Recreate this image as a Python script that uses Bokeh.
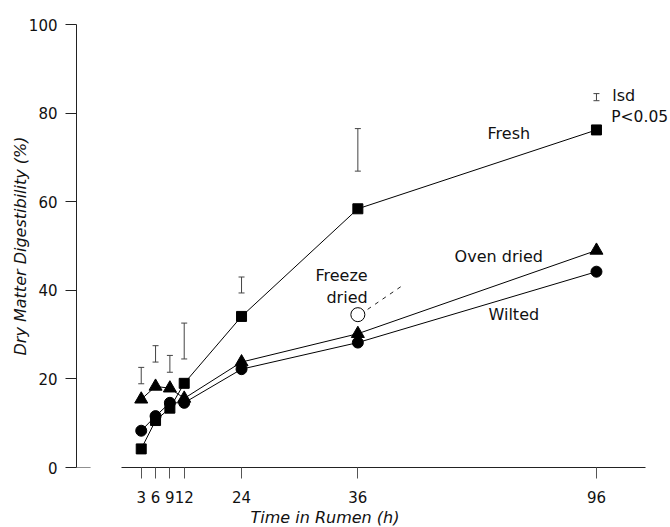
from bokeh.plotting import figure
from bokeh.models import (FixedTicker, CustomJSTickFormatter, Whisker, TeeHead,
                          ColumnDataSource, Label, Arrow, Range1d, Title)
from bokeh.embed import file_html
from bokeh.resources import INLINE

# ---------------- data ----------------
hours = [3, 6, 9, 12, 24, 36, 96]
hour_labels = ["3", "6", "9", "12", "24", "36", "96"]
# the original time axis is not drawn to scale: position of each time on the drawn axis
axis_pos = [3, 6, 9, 12, 24, 48.35, 98.3]

fresh = [4.2, 10.6, 13.4, 19.0, 34.1, 58.4, 76.2]
oven_dried = [15.4, 18.3, 17.9, 15.6, 23.8, 30.2, 49.0]
wilted = [8.3, 11.6, 14.6, 14.6, 22.2, 28.2, 44.2]

freeze_hours = [36]
freeze_dried = [34.5]

# lsd bars (P<0.05)
lsd_lower = [18.9, 23.8, 21.5, 24.5, 39.4, 66.9, 82.8]
lsd_upper = [22.6, 27.5, 25.3, 32.6, 43.0, 76.5, 84.4]

y_ticks = [0, 20, 40, 60, 80, 100]

FONT = "DejaVu Sans"

p = figure(output_backend="svg", toolbar_location=None,
           frame_width=594, frame_height=443,
           min_border_left=76, min_border_top=24, min_border_right=0,
           min_border_bottom=56,
           x_range=Range1d(-10.55, 113.8), y_range=Range1d(0, 100))
p.background_fill_color = "white"
p.border_fill_color = "white"
p.outline_line_color = None
p.grid.grid_line_color = None

# ---- axes ----
xa = p.xaxis[0]
xa.ticker = FixedTicker(ticks=axis_pos)
xa.formatter = CustomJSTickFormatter(args=dict(pos=axis_pos, labs=hour_labels), code="""
    const i = pos.indexOf(tick);
    return i >= 0 ? labs[i] : "";
""")
xa.bounds = (-1.13, 108.6)
xa.axis_line_color = "#222222"
xa.major_tick_line_color = "#555555"
xa.major_tick_out = 11
xa.major_tick_in = 0
xa.minor_tick_line_color = None
xa.major_label_standoff = 12
xa.major_label_text_font = FONT
xa.major_label_text_font_size = "15px"
xa.major_label_text_color = "#111111"

ya = p.yaxis[0]
ya.ticker = FixedTicker(ticks=y_ticks)
ya.bounds = (0, 100)
ya.axis_line_color = "#222222"
ya.major_tick_line_color = "#222222"
ya.major_tick_out = 11
ya.major_tick_in = 0
ya.minor_tick_line_color = None
ya.major_label_standoff = 8
ya.major_label_text_font = FONT
ya.major_label_text_font_size = "15px"
ya.major_label_text_color = "#111111"
ya.axis_label = "Dry Matter Digestibility (%)"
ya.axis_label_text_font = FONT
ya.axis_label_text_font_style = "italic"
ya.axis_label_text_font_size = "16px"
ya.axis_label_text_color = "#111111"
ya.axis_label_standoff = -4

# x axis title (placed left of centre, as in the original)
p.add_layout(Title(text="Time in Rumen (h)", align="left", offset=174,
                   text_font=FONT, text_font_size="16px", text_font_style="italic",
                   text_color="#111111", standoff=0), "below")

# the zero tick on the y axis reaches into the plot
p.add_layout(Arrow(x_start=-10.55, y_start=0, x_end=-7.6, y_end=0, end=None,
                   line_color="#222222", line_width=1))

# ---- lsd bars ----
lsd_src = ColumnDataSource(dict(base=axis_pos, lower=lsd_lower, upper=lsd_upper))
p.add_layout(Whisker(source=lsd_src, base="base", lower="lower", upper="upper",
                     dimension="height", line_color="#444444", line_width=1,
                     upper_head=TeeHead(size=6, line_color="#444444", line_width=1),
                     lower_head=TeeHead(size=6, line_color="#444444", line_width=1)))

# ---- series ----
src = ColumnDataSource(dict(x=axis_pos, fresh=fresh, oven=oven_dried, wilted=wilted))
p.line("x", "oven", source=src, line_color="black", line_width=1)
p.line("x", "wilted", source=src, line_color="black", line_width=1)
p.line("x", "fresh", source=src, line_color="black", line_width=1)
p.scatter("x", "oven", source=src, marker="triangle", size=13,
          fill_color="black", line_color="black")
p.scatter("x", "wilted", source=src, marker="circle", size=11,
          fill_color="black", line_color="black")
p.scatter("x", "fresh", source=src, marker="square", size=10,
          fill_color="black", line_color="black")

fz_x = [axis_pos[hours.index(h)] for h in freeze_hours]
p.scatter(fz_x, freeze_dried, marker="circle", size=14,
          fill_color="white", line_color="black", line_width=1)

# ---- annotations ----
def lab(x, y, t, align="left", size="16px", style="normal"):
    p.add_layout(Label(x=x, y=y, text=t, text_font=FONT, text_font_size=size,
                       text_align=align, text_baseline="middle",
                       text_font_style=style, text_color="#111111"))

lab(75.5, 75.4, "Fresh")
lab(68.6, 47.7, "Oven dried")
lab(75.7, 34.5, "Wilted")
lab(50.4, 43.3, "Freeze", align="right")
lab(50.4, 38.4, "dried", align="right")
lab(101.6, 84.0, "lsd")
lab(101.4, 79.1, "P<0.05", size="15.5px")

p.add_layout(Arrow(x_start=50.4, y_start=35.7, x_end=58.0, y_end=41.3, end=None,
                   line_color="#222222", line_width=1, line_dash="4 5"))

open("out.html", "w").write(file_html(p, INLINE))
